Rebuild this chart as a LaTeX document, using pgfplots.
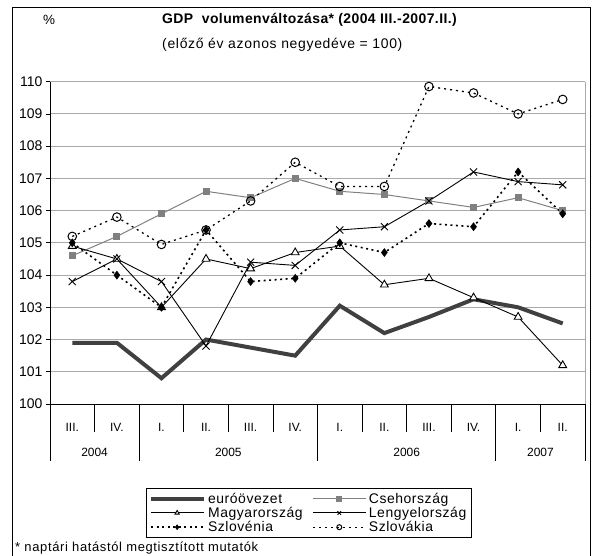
\documentclass[border=0pt]{standalone}
\usepackage{fontspec}
\setmainfont{Liberation Sans}
\usepackage{pgfplots}
\pgfplotsset{compat=1.18}
\definecolor{eurogray}{RGB}{64,64,64}
\definecolor{csehgray}{RGB}{128,128,128}
\definecolor{gridgray}{RGB}{170,170,170}
\begin{document}
\begin{tikzpicture}
\useasboundingbox (0bp,0bp) rectangle (593bp,-556bp);
\draw[line width=1bp] (12bp,-570bp) -- (12bp,-7bp) -- (590.7bp,-7bp) -- (590.7bp,-570bp);
\node[anchor=west,font=\fontsize{13.5}{15}\selectfont,inner sep=0pt] at (43bp,-20bp) {\%};
\node[anchor=west,font=\fontsize{14}{16}\selectfont\bfseries\addfontfeature{LetterSpace=3},inner sep=0pt] at (162bp,-20bp) {GDP\ \ volumenváltozása* (2004 III.-2007.II.)};
\node[anchor=west,font=\fontsize{14}{16}\selectfont\addfontfeature{LetterSpace=5},inner sep=0pt] at (162bp,-45bp) {(előző év azonos negyedéve = 100)};
\node[anchor=west,font=\fontsize{13}{15}\selectfont\addfontfeature{LetterSpace=5},inner sep=0pt] at (15bp,-548bp) {* naptári hatástól megtisztított mutatók};
\begin{axis}[
  at={(50bp,-404bp)}, anchor=south west,
  scale only axis, width=535bp, height=322.3bp,
  xmin=-0.5, xmax=11.5, ymin=100, ymax=110,
  axis x line*=bottom, axis y line*=left,
  axis line style={black, line width=0.9bp, -},
  ytick={100,101,...,110},
  ymajorgrids, grid style={gridgray, line width=0.9bp},
  tick align=outside, major tick length=4bp,
  ytick style={black, line width=0.8bp},
  yticklabel style={font=\fontsize{14}{15}\selectfont},
  /pgf/number format/assume math mode=true,
  xtick={0,1,...,11},
  xticklabels={III.,IV.,I.,II.,III.,IV.,I.,II.,III.,IV.,I.,II.},
  x tick style={draw=none},
  xticklabel style={font=\fontsize{12}{13}\selectfont, anchor=center, yshift=-19bp},
  clip=false,
  legend columns=2,
  legend cell align=left,
  legend style={at={(0.4836,-0.338)}, anchor=center, draw=black, thin,
    font=\fontsize{14}{14}\selectfont\addfontfeature{LetterSpace=4}, inner xsep=3bp, inner ysep=2.5bp,
    row sep=-1.5bp,
    /tikz/every even column/.append style={column sep=8bp}},
  legend image code/.code={\draw[mark repeat=2,mark phase=2,#1,mark size=2.5bp] plot coordinates {(0bp,0bp) (26bp,0bp) (53bp,0bp)};},
]
\pgfplotsinvokeforeach{-0.5,0.5,1.5,2.5,3.5,4.5,5.5,6.5,7.5,8.5,9.5,10.5,11.5}{
  \draw[black, line width=0.8bp] (axis cs:#1,100) -- ++(0bp,-28bp);
}
\pgfplotsinvokeforeach{-0.5,1.5,5.5,9.5,11.5}{
  \draw[black, line width=0.8bp] (axis cs:#1,100) -- ++(0bp,-57bp);
}
\draw[gridgray, line width=0.9bp] (axis cs:11.5,100) -- (axis cs:11.5,110);
\node[font=\fontsize{12}{13}\selectfont] at ([yshift=-48bp]axis cs:0.5,100) {2004};
\node[font=\fontsize{12}{13}\selectfont] at ([yshift=-48bp]axis cs:3.5,100) {2005};
\node[font=\fontsize{12}{13}\selectfont] at ([yshift=-48bp]axis cs:7.5,100) {2006};
\node[font=\fontsize{12}{13}\selectfont] at ([yshift=-48bp]axis cs:10.5,100) {2007};

\addplot[eurogray, line width=4bp, no markers] coordinates {
 (0,101.9) (1,101.9) (2,100.8) (3,102.0) (4,101.75) (5,101.5)
 (6,103.05) (7,102.2) (8,102.7) (9,103.25) (10,103.0) (11,102.5)};
\addlegendentry{euróövezet}
\addplot[csehgray, line width=1bp, mark=square*, mark size=3bp, mark options={fill=csehgray, draw=csehgray}] coordinates {
 (0,104.6) (1,105.2) (2,105.9) (3,106.6) (4,106.4) (5,107.0)
 (6,106.6) (7,106.5) (8,106.3) (9,106.1) (10,106.4) (11,106.0)};
\addlegendentry{Csehország}
\addplot[black, line width=0.9bp, mark=triangle*, mark size=4.5bp, mark options={fill=white, draw=black, line width=0.9bp}] coordinates {
 (0,104.9) (1,104.5) (2,103.0) (3,104.5) (4,104.2) (5,104.7)
 (6,104.9) (7,103.7) (8,103.9) (9,103.3) (10,102.7) (11,101.2)};
\addlegendentry{Magyarország}
\addplot[black, line width=0.9bp, mark=x, mark size=5bp, mark options={line width=0.9bp}] coordinates {
 (0,103.8) (1,104.5) (2,103.8) (3,101.8) (4,104.4) (5,104.3)
 (6,105.4) (7,105.5) (8,106.3) (9,107.2) (10,106.9) (11,106.8)};
\addlegendentry{Lengyelország}
\addplot[black, line width=1.6bp, dash pattern=on 2bp off 3.5bp, mark=diamond*, mark size=4bp, mark options={solid, fill=black, line width=0.5bp}] coordinates {
 (0,105.0) (1,104.0) (2,103.0) (3,105.4) (4,103.8) (5,103.9)
 (6,105.0) (7,104.7) (8,105.6) (9,105.5) (10,107.2) (11,105.9)};
\addlegendentry{Szlovénia}
\addplot[black, line width=1.3bp, dash pattern=on 2bp off 4bp, mark=o, mark size=4.3bp, mark options={solid, fill=white, line width=1bp}] coordinates {
 (0,105.2) (1,105.8) (2,104.95) (3,105.4) (4,106.3) (5,107.5)
 (6,106.75) (7,106.75) (8,109.85) (9,109.65) (10,109.0) (11,109.45)};
\addlegendentry{Szlovákia}
\end{axis}
\end{tikzpicture}
\end{document}
